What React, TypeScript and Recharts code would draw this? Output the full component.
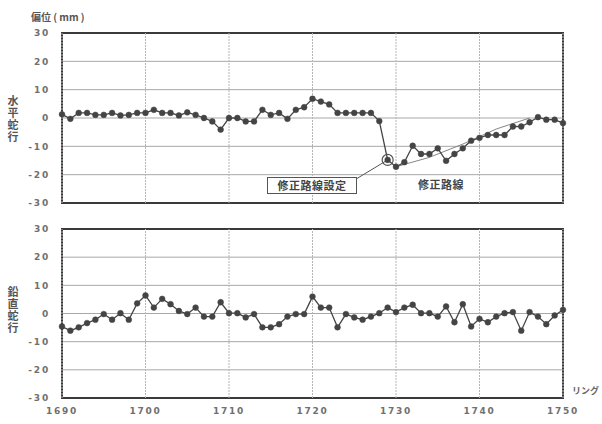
import {
  LineChart,
  Line,
  XAxis,
  YAxis,
  CartesianGrid,
  ReferenceArea,
  ReferenceLine,
  ReferenceDot,
} from "recharts";

const rings = [
  1690, 1691, 1692, 1693, 1694, 1695, 1696, 1697, 1698, 1699,
  1700, 1701, 1702, 1703, 1704, 1705, 1706, 1707, 1708, 1709,
  1710, 1711, 1712, 1713, 1714, 1715, 1716, 1717, 1718, 1719,
  1720, 1721, 1722, 1723, 1724, 1725, 1726, 1727, 1728, 1729,
  1730, 1731, 1732, 1733, 1734, 1735, 1736, 1737, 1738, 1739,
  1740, 1741, 1742, 1743, 1744, 1745, 1746, 1747, 1748, 1749,
  1750,
];

// 水平蛇行 (mm)
const horizontal = [
  1.3, -0.3, 1.8, 1.8, 1.1, 1.1, 1.8, 0.9, 1.1, 1.8,
  1.8, 2.9, 1.8, 1.8, 0.9, 2.0, 1.1, 0, -1.2, -4.1,
  0, 0, -1.2, -1.2, 2.9, 1.1, 1.8, -0.3, 2.9, 3.8,
  6.8, 5.8, 4.8, 1.8, 1.8, 1.8, 1.8, 1.8, -1.1, -14.8,
  -17.2, -15.6, -9.8, -12.7, -12.7, -10.7, -15.1, -12.7, -10.7, -8,
  -7, -6, -6, -6, -3, -3, -1.5, 0.3, -0.6, -0.6,
  -1.8,
];

// 鉛直蛇行 (mm)
const vertical = [
  -4.6, -6.1, -4.9, -3.4, -2.2, -0.2, -2.2, 0.1, -2.2, 3.6,
  6.4, 2.1, 5.2, 3.3, 0.9, -0.2, 2.1, -1.1, -1.1, 4,
  0.1, 0.1, -1.4, -0.2, -4.9, -4.9, -3.8, -1.1, -0.2, -0.2,
  6, 2.1, 2.1, -4.9, -0.2, -1.4, -2.2, -1.1, 0.1, 2.1,
  0.5, 2.1, 3.1, 0.1, 0.1, -1.1, 2.5, -3.1, 3.3, -4.6,
  -1.9, -3.1, -1.1, 0.1, 0.5, -6.1, 0.5, -1.1, -3.8, -0.7,
  1.3,
];

// 修正路線
const routeRings = [1730, 1734, 1738, 1742, 1746];
const routeValues = [-17.2, -13.9, -9.2, -3.9, 0];

const ringTicks = [1690, 1700, 1710, 1720, 1730, 1740, 1750];
const valueTicks = [-30, -20, -10, 0, 10, 20, 30];

const topData = rings.map((r, i) => {
  const k = routeRings.indexOf(r);
  return { ring: r, value: horizontal[i], route: k >= 0 ? routeValues[k] : null };
});
const bottomData = rings.map((r, i) => ({ ring: r, value: vertical[i] }));

const tickStyle = {
  fontSize: 9,
  fill: "#707070",
  fontFamily: "DejaVu Sans",
  fontWeight: "bold" as const,
  letterSpacing: 1.8,
};
const jp = "'Noto Sans CJK JP', sans-serif";
const ink = "#444";

const Panel = ({ data, showX }: { data: any[]; showX: boolean }) => (
  <LineChart
    width={602}
    height={showX ? 209 : 215}
    data={data}
    margin={showX ? { top: 14, right: 39, bottom: 6, left: 0 } : { top: 33, right: 39, bottom: 12, left: 0 }}
  >
    <CartesianGrid vertical={false} stroke="#a8a8a8" strokeWidth={1} />
    {ringTicks.map((t) => (
      <ReferenceLine key={t} x={t} stroke="#b5b5b5" strokeDasharray="2 1" />
    ))}
    <XAxis
      dataKey="ring"
      type="number"
      domain={[1690, 1750]}
      ticks={ringTicks}
      hide={!showX}
      height={20}
      axisLine={false}
      tickLine={false}
      tickMargin={4}
      tick={tickStyle}
    />
    <YAxis
      type="number"
      domain={[-30, 30]}
      ticks={valueTicks}
      width={62}
      axisLine={false}
      tickLine={false}
      tickMargin={6}
      tick={tickStyle}
    />
    <ReferenceArea x1={1690} x2={1750} y1={-30} y2={30} fill="none" stroke="#3a3a3a" strokeWidth={2} />
    {!showX && (
      <Line
        dataKey="route"
        connectNulls
        stroke="#777"
        strokeWidth={0.9}
        dot={false}
        isAnimationActive={false}
      />
    )}
    <Line
      dataKey="value"
      stroke={ink}
      strokeWidth={1.3}
      dot={{ r: 2.9, fill: ink, stroke: ink, strokeWidth: 0.5 }}
      isAnimationActive={false}
    />
    {!showX && (
      <ReferenceLine
        segment={[
          { x: 1725.3, y: -21.4 },
          { x: 1729, y: -14.8 },
        ]}
        stroke="#555"
        strokeWidth={1}
      />
    )}
    {!showX && <ReferenceDot x={1729} y={-14.8} r={5.5} fill="none" stroke="#555" strokeWidth={1.2} />}
  </LineChart>
);

const vLabel = (text: string, top: number) => (
  <div
    style={{
      position: "absolute",
      left: 6,
      top,
      writingMode: "vertical-rl",
      whiteSpace: "nowrap",
      fontFamily: jp,
      fontSize: 11,
      fontWeight: 700,
      color: "#555",
      lineHeight: "14px",
      letterSpacing: 1,
    }}
  >
    {text}
  </div>
);

export default function App() {
  return (
    <div
      style={{
        position: "absolute",
        left: 0,
        top: 0,
        width: 602,
        height: 424,
        background: "#fff",
        fontFamily: jp,
      }}
    >
      <div style={{ position: "absolute", left: 0, top: 0 }}>
        <Panel data={topData} showX={false} />
      </div>
      <div style={{ position: "absolute", left: 0, top: 215 }}>
        <Panel data={bottomData} showX={true} />
      </div>
      <div style={{ position: "absolute", left: 31, top: 9, fontSize: 10, fontWeight: 700, color: "#555" }}>
        偏位 ( mm )
      </div>
      {vLabel("水平蛇行", 95)}
      {vLabel("鉛直蛇行", 286)}
      <div
        style={{
          position: "absolute",
          left: 267,
          top: 177,
          width: 88,
          height: 15,
          border: "1.2px solid #555",
          background: "#fff",
          fontSize: 11,
          fontWeight: 700,
          color: "#444",
          lineHeight: "15px",
          textAlign: "center",
          letterSpacing: 0.5,
        }}
      >
        修正路線設定
      </div>
      <div
        style={{
          position: "absolute",
          left: 418,
          top: 176,
          fontSize: 11,
          fontWeight: 700,
          color: "#444",
          letterSpacing: 0.5,
        }}
      >
        修正路線
      </div>
      <div style={{ position: "absolute", left: 572, top: 384, fontSize: 9, fontWeight: 700, color: "#666" }}>
        リング
      </div>
    </div>
  );
}
